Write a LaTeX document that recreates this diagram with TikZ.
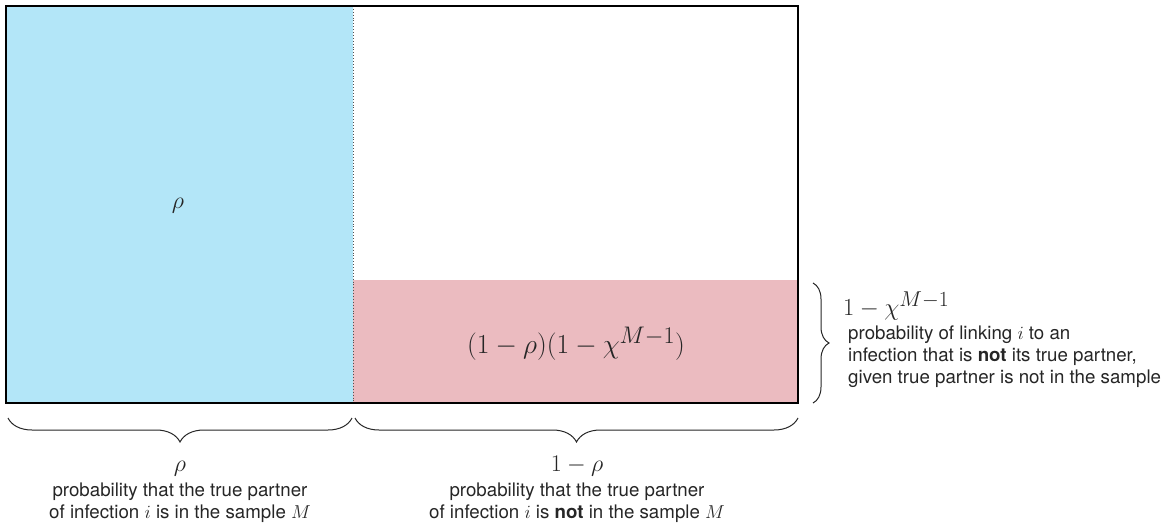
\RequirePackage{fix-cm}
\documentclass[tikz,border=0pt]{standalone}
\usepackage[no-math]{fontspec}
\usepackage{amsmath}
\newfontfamily\helv{TeX Gyre Heros}
\DeclareMathSizes{27.5}{27.5}{24}{18}
\DeclareMathSizes{24.5}{24.5}{21.5}{16}
\usetikzlibrary{decorations.pathreplacing,positioning}
\definecolor{Sky}{HTML}{B3E6F8}
\definecolor{Blush}{HTML}{EBBBC0}
\definecolor{Ink}{HTML}{262626}

\begin{document}
\begin{tikzpicture}[x=1pt,y=-1pt,
  note/.style={font=\helv\fontsize{18.7}{22}\selectfont,align=center,text=Ink,inner sep=0pt},
  big/.style={font=\fontsize{24}{28}\selectfont,text=Ink,anchor=base},
  brace/.style={decorate,decoration={brace,amplitude=#1},draw=Ink,line width=1pt}]
  \useasboundingbox (0,0) rectangle (1167,527);
  % corners of the square and the split
  \coordinate (tl) at (6,6);
  \coordinate (br) at (798,403);
  \coordinate (midT) at (353,6);
  \coordinate (midB) at (353,403);
  \coordinate (cut) at (353,280);
  \fill[Sky] (tl) rectangle (midB);
  \fill[Blush] (cut) rectangle (br);
  \draw[Ink!80,dotted,line width=0.9pt] (midT) -- (midB);
  \draw[black,line width=2.4pt] (tl) rectangle (br);
  % labels inside
  \node[big] (rhoIn) at (178,208) {$\rho$};
  \node[big,font=\fontsize{27.5}{30}\selectfont] (mix) at (576,353) {$(1-\rho)(1-\chi^{M-1})$};
  % braces
  \draw[brace=24] (352,418) -- (8,418);
  \draw[brace=24] (798,418) -- (355,418);
  \draw[brace=16] (813,283) -- (813,403);
  % bottom labels
  \node[big] (rhoB) at (180,471) {$\rho$};
  \node[note,below=3pt of rhoB] (inL) {probability that the true partner\\of infection $i$ is in the sample $M$};
  \node[big] (notB) at (577,471) {$1-\rho$};
  \node[note,below=3pt of notB] (notL) {probability that the true partner\\of infection $i$ is \textbf{not} in the sample $M$};
  % right labels
  \node[big,anchor=base west,inner sep=0pt,font=\fontsize{24.5}{28}\selectfont] (chiR) at (843,315) {$1-\chi^{M-1}$};
  \node[note,align=left,anchor=north west] (linkR) at (848,326) {probability of linking $i$ to an\\infection that is \textbf{not} its true partner,\\given true partner is not in the sample};
\end{tikzpicture}
\end{document}
